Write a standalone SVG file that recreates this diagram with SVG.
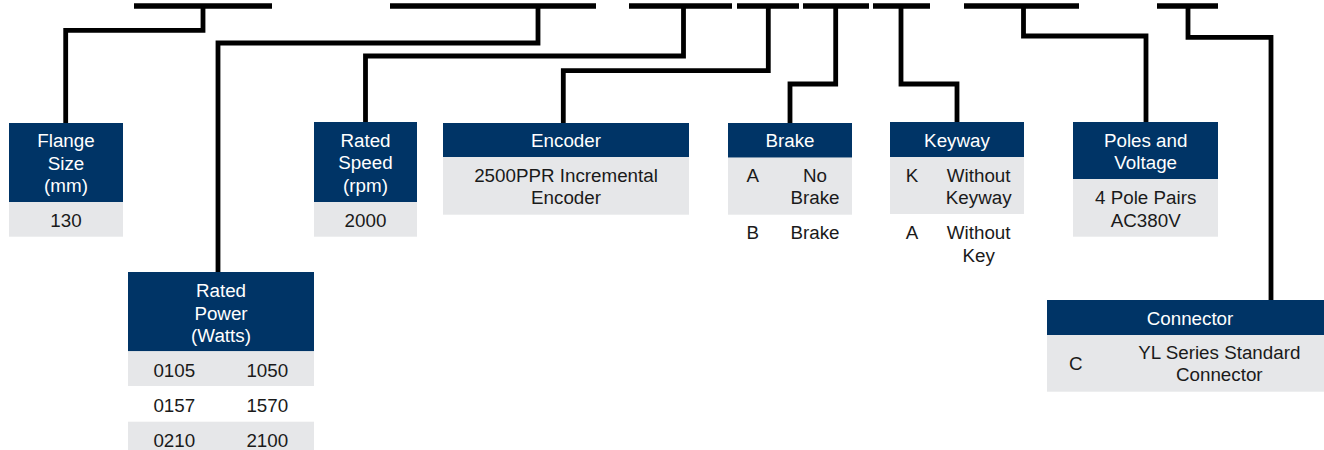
<svg xmlns="http://www.w3.org/2000/svg" width="1324" height="450" viewBox="0 0 1324 450">
<style>
.bar{stroke:#000;stroke-width:5.5;fill:none}
.wire{stroke:#000;stroke-width:4.8;fill:none;stroke-linejoin:miter}
.hd{fill:#003466}
.bd{fill:#e6e7e9}
text{font-family:"Liberation Sans",Arial,sans-serif;font-size:18.8px;text-anchor:middle}
.w{fill:#ffffff}
.k{fill:#1a1a1a}
</style>
<rect width="1324" height="450" fill="#ffffff"/>
<g id="connectors">
<line class="bar" x1="134" y1="6" x2="272" y2="6"/>
<line class="bar" x1="390" y1="6" x2="596" y2="6"/>
<line class="bar" x1="629" y1="6" x2="732" y2="6"/>
<line class="bar" x1="737" y1="6" x2="799" y2="6"/>
<line class="bar" x1="803" y1="6" x2="869" y2="6"/>
<line class="bar" x1="873" y1="6" x2="930" y2="6"/>
<line class="bar" x1="964" y1="6" x2="1079" y2="6"/>
<line class="bar" x1="1157" y1="6" x2="1218" y2="6"/>
<polyline class="wire" points="203,6 203,30.3 65.7,30.3 65.7,123"/>
<polyline class="wire" points="538,6 538,43 218,43 218,272"/>
<polyline class="wire" points="683.5,6 683.5,56 365.5,56 365.5,122"/>
<polyline class="wire" points="768.3,6 768.3,70.7 563.3,70.7 563.3,123"/>
<polyline class="wire" points="835.7,6 835.7,84 790,84 790,123"/>
<polyline class="wire" points="901,6 901,84 957,84 957,122"/>
<polyline class="wire" points="1023.5,6 1023.5,36 1146,36 1146,122"/>
<polyline class="wire" points="1188,6 1188,37.3 1271,37.3 1271,300"/>
</g>
<g id="flange">
<rect class="hd" x="9" y="123" width="114" height="79"/>
<rect class="bd" x="9" y="202" width="114" height="34.7"/>
<text class="w" x="66" y="147.3">Flange</text>
<text class="w" x="66" y="169.8">Size</text>
<text class="w" x="66" y="192.3">(mm)</text>
<text class="k" x="66" y="226.5">130</text>
</g>
<g id="rated-power">
<rect class="hd" x="128" y="272" width="186" height="79.3"/>
<rect class="bd" x="128" y="351.3" width="186" height="34.7"/>
<rect class="bd" x="128" y="421.7" width="186" height="28.3"/>
<text class="w" x="221" y="297">Rated</text>
<text class="w" x="221" y="319.5">Power</text>
<text class="w" x="221" y="342">(Watts)</text>
<text class="k" x="174.3" y="376.5">0105</text>
<text class="k" x="267.3" y="376.5">1050</text>
<text class="k" x="174.3" y="411.5">0157</text>
<text class="k" x="267.3" y="411.5">1570</text>
<text class="k" x="174.3" y="446.5">0210</text>
<text class="k" x="267.3" y="446.5">2100</text>
</g>
<g id="rated-speed">
<rect class="hd" x="314" y="122" width="103" height="80"/>
<rect class="bd" x="314" y="202" width="103" height="34.7"/>
<text class="w" x="365.5" y="146.5">Rated</text>
<text class="w" x="365.5" y="169">Speed</text>
<text class="w" x="365.5" y="191.5">(rpm)</text>
<text class="k" x="365.5" y="226.5">2000</text>
</g>
<g id="encoder">
<rect class="hd" x="443" y="123" width="246" height="34"/>
<rect class="bd" x="443" y="157" width="246" height="57.7"/>
<text class="w" x="566" y="147">Encoder</text>
<text class="k" x="566" y="182">2500PPR Incremental</text>
<text class="k" x="566" y="204">Encoder</text>
</g>
<g id="brake">
<rect class="hd" x="728" y="123" width="124" height="34.7"/>
<rect class="bd" x="728" y="157.7" width="124" height="57"/>
<text class="w" x="790" y="147">Brake</text>
<text class="k" x="752.7" y="182">A</text>
<text class="k" x="815" y="182">No</text>
<text class="k" x="815" y="204">Brake</text>
<text class="k" x="752.7" y="239">B</text>
<text class="k" x="815" y="239">Brake</text>
</g>
<g id="keyway">
<rect class="hd" x="890" y="122" width="134" height="35"/>
<rect class="bd" x="890" y="157" width="134" height="57"/>
<text class="w" x="957" y="147">Keyway</text>
<text class="k" x="912" y="182">K</text>
<text class="k" x="978.7" y="182">Without</text>
<text class="k" x="978.7" y="204">Keyway</text>
<text class="k" x="912" y="239">A</text>
<text class="k" x="978.7" y="239">Without</text>
<text class="k" x="978.7" y="261.5">Key</text>
</g>
<g id="poles-voltage">
<rect class="hd" x="1073" y="122" width="145" height="57"/>
<rect class="bd" x="1073" y="179" width="145" height="57.7"/>
<text class="w" x="1145.7" y="146.5">Poles and</text>
<text class="w" x="1145.7" y="169">Voltage</text>
<text class="k" x="1145.7" y="204">4 Pole Pairs</text>
<text class="k" x="1145.7" y="226.5">AC380V</text>
</g>
<g id="connector">
<rect class="hd" x="1047" y="300" width="286" height="35"/>
<rect class="bd" x="1047" y="335" width="286" height="56.7"/>
<text class="w" x="1190" y="324.5">Connector</text>
<text class="k" x="1075.7" y="370">C</text>
<text class="k" x="1219.3" y="359">YL Series Standard</text>
<text class="k" x="1219.3" y="381">Connector</text>
</g>
</svg>
